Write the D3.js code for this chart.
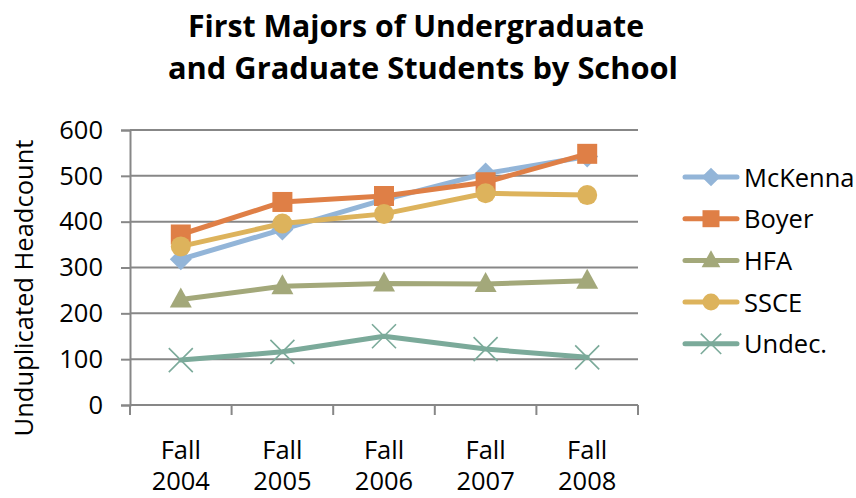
<!DOCTYPE html>
<html><head><meta charset="utf-8">
<script src="https://cdn.jsdelivr.net/npm/d3@7"></script>
<style>body{margin:0;background:#fff}svg{display:block}text{font-family:"Open Sans",Lato,sans-serif}</style>
</head><body>
<script>
const categories = ["Fall 2004","Fall 2005","Fall 2006","Fall 2007","Fall 2008"];
const seriesNames = ["McKenna","Boyer","HFA","SSCE","Undec."];
const mckenna = [318, 383, 448, 505, 542];
const boyer   = [372, 443, 456, 486, 548];
const hfa     = [230, 259, 265, 264, 271];
const ssce    = [346, 396, 417, 462, 458];
const undec   = [98, 116, 150, 122, 104];
const yTicks  = [0,100,200,300,400,500,600];
const colors  = ["#93B5D8","#DF7F46","#A3A87A","#DDB35C","#7BAA9A"];
const markers = ["diamond","square","triangle","circle","x"];
const allSeries = [mckenna, boyer, hfa, ssce, undec];

const W=856,H=498;
const svg=d3.select("body").append("svg").attr("width",W).attr("height",H);
const L=130,R=638,T=130,B=405;
const x=d3.scalePoint().domain(categories).range([L,R]).padding(0.5);
const y=d3.scaleLinear().domain([0,600]).range([B,T]);
const FS=25.5;

// title
const title=svg.append("text").attr("text-anchor","middle").attr("font-weight","bold").attr("font-size",31).attr("fill","#000");
title.append("tspan").attr("x",416).attr("y",37).attr("textLength",456).attr("lengthAdjust","spacingAndGlyphs").text("First Majors of Undergraduate");
title.append("tspan").attr("x",423).attr("y",79).attr("textLength",510).attr("lengthAdjust","spacingAndGlyphs").text("and Graduate Students by School");

// gridlines
svg.append("g").selectAll("line").data(yTicks.filter(d=>d>0)).join("line")
  .attr("x1",L).attr("x2",R).attr("y1",d=>y(d)).attr("y2",d=>y(d))
  .attr("stroke","#878787").attr("stroke-width",2);

// y axis
const yAxis=svg.append("g").attr("transform",`translate(${L},0)`)
  .call(d3.axisLeft(y).tickValues(yTicks).tickSize(9).tickPadding(18));
yAxis.select(".domain").attr("stroke","#878787").attr("stroke-width",2);
yAxis.selectAll(".tick line").attr("stroke","#878787").attr("stroke-width",2);
yAxis.selectAll(".tick text").attr("font-size",FS).attr("fill","#000").attr("font-family","'Open Sans',sans-serif");

// x axis
const step=x.step();
const bounds=d3.range(categories.length+1).map(i=>L+i*step);
svg.append("line").attr("x1",L).attr("x2",R).attr("y1",B).attr("y2",B).attr("stroke","#878787").attr("stroke-width",2);
svg.append("g").selectAll("line").data(bounds).join("line")
  .attr("x1",d=>d).attr("x2",d=>d).attr("y1",B).attr("y2",B+10).attr("stroke","#878787").attr("stroke-width",2);
const xl=svg.append("g").selectAll("text").data(categories).join("text")
  .attr("text-anchor","middle").attr("font-size",FS).attr("fill","#000");
xl.append("tspan").attr("x",d=>x(d)).attr("y",459).text(d=>d.split(" ")[0]);
xl.append("tspan").attr("x",d=>x(d)).attr("y",490).text(d=>d.split(" ")[1]);

// y title
svg.append("text").attr("transform","translate(33,288) rotate(-90)").attr("text-anchor","middle")
  .attr("font-size",FS).attr("fill","#000").text("Unduplicated Headcount");

function marker(g,type,color,cx,cy,s){
  if(type==="diamond"){
    g.append("path").attr("d",`M${cx},${cy-s*0.55}L${cx+s*0.55},${cy}L${cx},${cy+s*0.55}L${cx-s*0.55},${cy}Z`).attr("fill",color);
  } else if(type==="square"){
    g.append("rect").attr("x",cx-s/2).attr("y",cy-s/2).attr("width",s).attr("height",s).attr("fill",color);
  } else if(type==="triangle"){
    g.append("path").attr("d",`M${cx},${cy-s*0.6}L${cx+s*0.55},${cy+s*0.4}L${cx-s*0.55},${cy+s*0.4}Z`).attr("fill",color);
  } else if(type==="circle"){
    g.append("circle").attr("cx",cx).attr("cy",cy).attr("r",s/2).attr("fill",color);
  } else {
    const h=s*0.6;
    g.append("path").attr("d",`M${cx-h},${cy-h}L${cx+h},${cy+h}M${cx-h},${cy+h}L${cx+h},${cy-h}`).attr("stroke",color).attr("stroke-width",1.6).attr("fill","none");
  }
}

const line=d3.line().x((d,i)=>x(categories[i])).y(d=>y(d));
allSeries.forEach((vals,si)=>{
  const g=svg.append("g");
  g.append("path").attr("d",line(vals)).attr("fill","none").attr("stroke",colors[si])
    .attr("stroke-width",5).attr("stroke-linejoin","round").attr("stroke-linecap","round");
  vals.forEach((v,i)=>marker(g,markers[si],colors[si],x(categories[i]),y(v),20));
});

// legend
const lg=svg.append("g");
seriesNames.forEach((n,i)=>{
  const cy=177+i*41.7;
  const g=lg.append("g");
  g.append("line").attr("x1",685).attr("x2",737).attr("y1",cy).attr("y2",cy).attr("stroke",colors[i]).attr("stroke-width",5).attr("stroke-linecap","round");
  marker(g,markers[i],colors[i],711,cy,17);
  g.append("text").attr("x",744).attr("y",cy+9.5).attr("font-size",FS).attr("fill","#000").text(n);
});
</script>
</body></html>
